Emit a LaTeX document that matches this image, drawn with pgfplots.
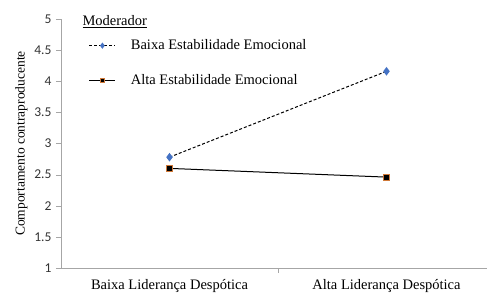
\documentclass[border=0pt]{standalone}
\usepackage{fontspec}
\setmainfont{Liberation Serif}
\newfontfamily\calibri{Carlito}
\usepackage{pgfplots}
\pgfplotsset{compat=1.18}
\definecolor{axgray}{HTML}{A6A6A6}
\definecolor{blu}{HTML}{4472C4}
\definecolor{org}{HTML}{D07A3A}
\begin{document}
\begin{tikzpicture}
\useasboundingbox (-61pt,-28pt) rectangle (426pt,268pt);
\begin{axis}[
  at={(0,0)}, anchor=south west,
  scale only axis, width=426pt, height=249pt,
  xmin=-0.5, xmax=1.463, ymin=1, ymax=5,
  axis x line*=bottom, axis y line*=left,
  axis line style={axgray, line width=0.6pt},
  ytick={1,1.5,2,2.5,3,3.5,4,4.5,5},
  yticklabel style={font=\calibri\fontsize{13.5}{15}\selectfont, text=black!80, xshift=-1pt},
  ytick style={axgray}, tick align=outside, major tick length=5pt,
  xtick={0,1}, xticklabels={Baixa Liderança Despótica, Alta Liderança Despótica},
  xticklabel style={font=\fontsize{14.5}{16}\selectfont, yshift=-3pt},
  x tick style={draw=none},
  extra x ticks={0.5}, extra x tick labels={},
  extra x tick style={x tick style={draw=axgray}, major tick length=5pt},
  ylabel={Comportamento contraproducente},
  ylabel style={font=\fontsize{13.5}{15}\selectfont},
  /pgf/number format/assume math mode=true,
  clip=false,
  legend style={draw=none, fill=none, at={(rel axis cs:0.065,0.925)}, anchor=north west,
    font=\fontsize{14.5}{16}\selectfont, row sep=19pt, inner sep=0pt},
  legend cell align=left,
  legend image code/.code={\draw[mark repeat=2,mark phase=2, mark size=2.3pt] plot coordinates {(0pt,0pt) (13pt,0pt) (26pt,0pt)}; \path (39pt,0pt);},
]
\addplot[black, dashed, dash pattern=on 3pt off 2pt, line width=1pt, mark=diamond*, mark size=3.5pt, mark options={solid, fill=blu, draw=blu}]
  coordinates {(0,2.78) (1,4.16)};
\addlegendentry{Baixa Estabilidade Emocional}
\addplot[black, line width=1pt, mark=square*, mark size=2.8pt, mark options={fill=black, draw=org, line width=0.5pt}]
  coordinates {(0,2.60) (1,2.46)};
\addlegendentry{Alta Estabilidade Emocional}
\node[anchor=west, font=\fontsize{14.5}{16}\selectfont, inner sep=0pt] at (rel axis cs:0.05,0.99) {\underline{Moderador}};
\end{axis}
\end{tikzpicture}
\end{document}
